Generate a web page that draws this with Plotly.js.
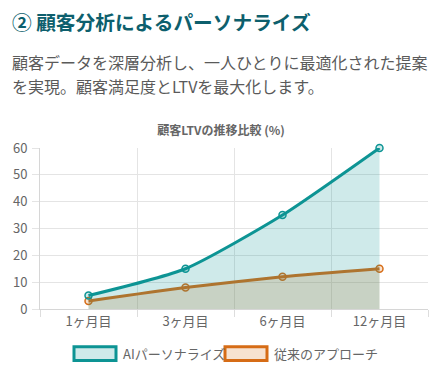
<!DOCTYPE html>
<html><head><meta charset="utf-8">
<script src="https://cdn.plot.ly/plotly-3.0.1.min.js"></script>
<style>
html,body{margin:0;padding:0;background:#fff;width:442px;height:374px;overflow:hidden;font-family:"Noto Sans CJK JP","Noto Sans",sans-serif;}
#h{position:absolute;left:12px;top:6px;font-size:19.7px;font-weight:700;color:#0d5f6d;margin:0;line-height:32px;white-space:nowrap;}
#p{position:absolute;left:12px;top:50px;font-size:16px;color:#5a5a5a;margin:0;line-height:24px;width:422px;}
#chart{position:absolute;left:0;top:0;width:442px;height:374px;}
</style></head>
<body>
<div id="chart"></div>
<h2 id="h">② 顧客分析によるパーソナライズ</h2>
<p id="p">顧客データを深層分析し、一人ひとりに最適化された提案を実現。顧客満足度とLTVを最大化します。</p>
<script>
const categories = ["1ヶ月目","3ヶ月目","6ヶ月目","12ヶ月目"];
const aiValues = [5, 15, 35, 60];
const tradValues = [3, 8, 12, 15];
const seriesNames = ["AIパーソナライズ","従来のアプローチ"];
const chartTitle = "顧客LTVの推移比較 (%)";

const teal = "rgb(13,148,148)";
const tealFill = "rgba(13,148,148,0.2)";
const orange = "rgb(214,108,22)";
const orangeFill = "rgba(214,108,22,0.2)";

const L=40, R=428, T=148, B=309.3;
const px = x => (x-L)/(R-L);
const py = y => (B-y)/(B-T);

const traces = [
 {x:categories, y:tradValues, name:seriesNames[1], type:"scatter", mode:"lines+markers",
  fill:"tozeroy", fillcolor:orangeFill, line:{color:orange,width:3,shape:"spline",smoothing:0.6},
  marker:{size:7,color:orangeFill,line:{color:orange,width:1.5}}, cliponaxis:false, showlegend:false},
 {x:categories, y:aiValues, name:seriesNames[0], type:"scatter", mode:"lines+markers",
  fill:"tozeroy", fillcolor:tealFill, line:{color:teal,width:3,shape:"spline",smoothing:0.6},
  marker:{size:7,color:tealFill,line:{color:teal,width:1.5}}, cliponaxis:false, showlegend:false}
];

const legendItems = [
 {x0:74,x1:116,tx:121,name:seriesNames[0],c:teal,f:"rgba(13,148,148,0.2)"},
 {x0:225,x1:267,tx:272,name:seriesNames[1],c:orange,f:"rgba(214,108,22,0.2)"}
];
const shapes = legendItems.map(it=>({type:"rect",xref:"paper",yref:"paper",
  x0:px(it.x0),x1:px(it.x1),y0:py(361),y1:py(347),line:{color:it.c,width:3},fillcolor:it.f}));
const annotations = legendItems.map(it=>({xref:"paper",yref:"paper",x:px(it.tx),y:py(354),
  xanchor:"left",yanchor:"middle",showarrow:false,text:it.name,font:{size:13,color:"#666"}}));

const layout = {
 width:442,height:374,margin:{l:L,r:442-R,t:T,b:374-B},
 paper_bgcolor:"#fff",plot_bgcolor:"#fff",
 font:{family:'"Noto Sans CJK JP","Noto Sans",sans-serif',color:"#666"},
 title:{text:"<b>"+chartTitle+"</b>",font:{size:12,color:"#666"},x:0.5,xref:"container",y:1-131/374,yref:"container",yanchor:"middle"},
 xaxis:{type:"category",range:[-0.5,3.5],tickson:"boundaries",ticks:"outside",ticklen:7,tickcolor:"#ddd",
   showgrid:true,gridcolor:"#e4e4e4",showline:true,linecolor:"#d6d6d6",zeroline:false,
   tickfont:{size:13,color:"#666"},fixedrange:true},
 yaxis:{range:[0,60],dtick:10,ticks:"outside",ticklen:7,tickcolor:"#e4e4e4",
   showgrid:true,gridcolor:"#e4e4e4",showline:true,linecolor:"#d6d6d6",zeroline:false,
   tickfont:{size:13,color:"#666"},ticklabelstandoff:2,fixedrange:true},
 shapes:shapes,annotations:annotations,showlegend:false
};
Plotly.newPlot("chart",traces,layout,{staticPlot:true,displayModeBar:false});
</script>
</body></html>
